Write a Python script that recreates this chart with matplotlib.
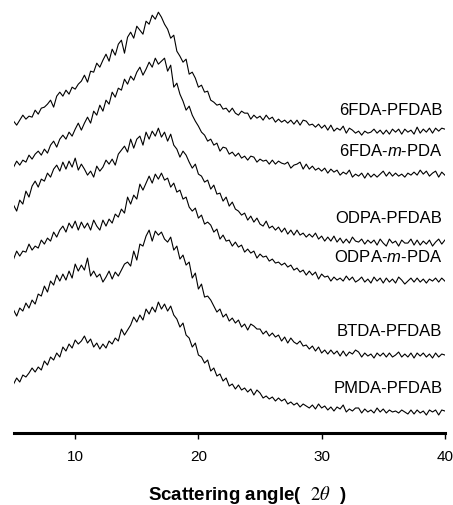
import numpy as np
import matplotlib
matplotlib.use("Agg")
import matplotlib.pyplot as plt

plt.rcParams["font.family"] = ["Liberation Sans", "DejaVu Sans"]
plt.rcParams["mathtext.fontset"] = "custom"
plt.rcParams["mathtext.rm"] = "Liberation Sans"
plt.rcParams["mathtext.it"] = "Liberation Sans:italic"

# stacked intensities (a.u., already offset), top to bottom
# sampled every 0.25 deg from 5 to 40 deg (2 theta)
i_6fda_pfdab = [312, 308, 313, 318, 314, 317, 316, 323, 319, 325, 326, 329, 333, 326, 337, 341,
                337, 343, 339, 346, 344, 349, 352, 358, 351, 362, 361, 370, 366, 373, 379, 372,
                384, 378, 389, 393, 380, 396, 401, 395, 407, 403, 399, 412, 409, 418, 414, 421,
                416, 409, 404, 395, 398, 382, 377, 371, 374, 359, 361, 355, 346, 348, 341, 342,
                333, 331, 328, 329, 324, 325, 321, 325, 320, 318, 322, 320, 320, 314, 318, 315,
                317, 313, 318, 314, 316, 311, 314, 311, 313, 310, 313, 309, 313, 308, 313, 312,
                308, 309, 306, 309, 305, 308, 303, 308, 302, 305, 303, 307, 300, 305, 303, 300,
                302, 298, 302, 300, 301, 304, 300, 303, 299, 303, 299, 304, 301, 304, 299, 304,
                301, 303, 299, 306, 300, 304, 301, 305, 300, 305, 302, 305, 304]
i_6fda_mpda = [266, 272, 268, 273, 271, 278, 274, 279, 282, 278, 284, 280, 288, 292, 286, 294,
               298, 294, 301, 297, 304, 310, 303, 310, 316, 310, 322, 318, 328, 322, 333, 329,
               341, 336, 345, 343, 354, 349, 357, 353, 361, 366, 358, 364, 371, 366, 375, 369,
               372, 375, 362, 368, 346, 350, 339, 332, 323, 327, 318, 312, 307, 301, 298, 292,
               294, 288, 290, 282, 286, 285, 279, 281, 277, 280, 275, 277, 273, 277, 276, 271,
               274, 272, 273, 269, 273, 269, 272, 270, 269, 271, 265, 268, 269, 271, 264, 269,
               264, 267, 263, 265, 262, 265, 260, 264, 261, 263, 258, 261, 259, 263, 256, 259,
               257, 260, 255, 260, 256, 259, 256, 259, 262, 257, 261, 257, 260, 257, 259, 256,
               260, 258, 261, 258, 263, 259, 262, 257, 260, 262, 256, 261, 258]
i_odpa_pfdab = [228, 222, 233, 229, 242, 236, 247, 252, 246, 254, 252, 260, 256, 264, 268, 262,
                271, 264, 272, 266, 275, 263, 269, 264, 258, 262, 256, 267, 262, 266, 273, 269,
                274, 268, 279, 283, 287, 281, 294, 285, 294, 297, 288, 301, 294, 302, 297, 305,
                296, 301, 292, 299, 288, 284, 276, 282, 278, 271, 265, 269, 259, 257, 251, 253,
                244, 248, 239, 240, 232, 236, 227, 231, 224, 222, 218, 220, 213, 217, 211, 215,
                209, 207, 212, 205, 207, 203, 206, 201, 205, 199, 203, 198, 203, 198, 200, 196,
                199, 196, 200, 194, 197, 192, 196, 192, 197, 191, 195, 190, 194, 190, 196, 192,
                191, 194, 189, 193, 190, 193, 188, 194, 190, 187, 194, 190, 192, 187, 193, 190,
                190, 194, 188, 193, 188, 192, 189, 193, 187, 191, 194, 189, 193]
i_odpa_mpda = [174, 182, 177, 182, 181, 189, 183, 187, 185, 193, 189, 195, 192, 201, 196, 203,
               207, 201, 210, 205, 212, 203, 211, 205, 210, 203, 213, 207, 203, 213, 207, 214,
               210, 219, 216, 224, 220, 236, 229, 238, 234, 249, 243, 250, 257, 250, 259, 254,
               260, 253, 255, 246, 250, 241, 243, 234, 236, 226, 222, 225, 215, 218, 209, 211,
               208, 201, 204, 194, 198, 192, 193, 187, 191, 186, 188, 181, 184, 180, 182, 175,
               179, 176, 177, 172, 174, 170, 171, 168, 170, 166, 168, 163, 165, 161, 163, 158,
               162, 158, 161, 154, 159, 156, 157, 152, 156, 153, 155, 152, 157, 153, 156, 151,
               153, 156, 151, 154, 150, 156, 152, 155, 150, 155, 151, 154, 150, 156, 153, 149,
               152, 155, 151, 155, 151, 154, 150, 154, 152, 155, 151, 155, 152]
i_btda_pfdab = [123, 117, 125, 122, 130, 125, 133, 129, 139, 137, 147, 141, 152, 148, 158, 152,
                159, 153, 162, 155, 169, 162, 168, 163, 175, 157, 162, 156, 159, 151, 156, 162,
                154, 161, 157, 163, 169, 171, 167, 182, 173, 189, 187, 197, 203, 192, 202, 198,
                201, 194, 191, 196, 183, 187, 174, 178, 168, 171, 155, 160, 144, 149, 136, 137,
                133, 127, 121, 124, 116, 119, 112, 115, 110, 113, 106, 109, 103, 109, 107, 104,
                104, 99, 102, 97, 100, 96, 98, 92, 96, 90, 95, 91, 89, 92, 87, 88,
                84, 87, 82, 86, 80, 83, 79, 83, 79, 82, 77, 82, 77, 81, 79, 83,
                81, 76, 80, 77, 79, 75, 80, 77, 80, 76, 80, 76, 78, 81, 76, 79,
                76, 80, 75, 80, 77, 80, 76, 79, 75, 80, 76, 79, 78]
i_pmda_pfdab = [49, 55, 51, 58, 56, 60, 65, 61, 66, 63, 72, 68, 76, 73, 80, 76,
                86, 82, 89, 85, 93, 89, 92, 97, 90, 94, 86, 90, 84, 89, 85, 92,
                89, 95, 92, 104, 98, 103, 108, 116, 111, 118, 113, 124, 119, 126, 121, 131,
                124, 129, 122, 127, 118, 114, 106, 110, 98, 95, 86, 90, 78, 76, 70, 73,
                62, 65, 57, 59, 52, 55, 47, 49, 44, 48, 43, 45, 41, 44, 38, 43,
                40, 35, 37, 34, 36, 32, 35, 32, 34, 29, 31, 28, 30, 26, 29, 27,
                25, 28, 24, 29, 25, 27, 23, 26, 22, 26, 24, 28, 21, 24, 22, 25,
                25, 20, 24, 21, 23, 20, 25, 21, 24, 20, 23, 21, 22, 20, 23, 21,
                19, 23, 19, 23, 20, 22, 18, 23, 21, 23, 18, 23, 22]

series = [i_6fda_pfdab, i_6fda_mpda, i_odpa_pfdab, i_odpa_mpda, i_btda_pfdab, i_pmda_pfdab]
names = ["6FDA-PFDAB", r"6FDA-$\mathit{m}$-PDA", "ODPA-PFDAB",
         r"ODPA-$\mathit{m}$-PDA", "BTDA-PFDAB", "PMDA-PFDAB"]
label_y = [323, 282, 215, 176, 102, 45]

fig = plt.figure(figsize=(4.53, 5.05), dpi=100)
ax = fig.add_axes([0.030, 0.1426, 0.952, 0.857])

for vals in series:
    two_theta = np.linspace(5, 40, len(vals))
    ax.plot(two_theta, vals, color="black", lw=0.8)

for name, yl in zip(names, label_y):
    ax.text(39.8, yl, name, ha="right", va="center", fontsize=12)

ax.set_xlim(5, 40)
ax.set_ylim(0, 433)
ax.set_xticks([10, 20, 30, 40])
ax.set_yticks([])
for s in ["left", "right", "top"]:
    ax.spines[s].set_visible(False)
ax.spines["bottom"].set_linewidth(2.2)
ax.tick_params(axis="x", direction="out", length=4, width=1, pad=8, labelsize=11)

# x label: bold sans text with a serif italic 2-theta
fig.text(247, 505 - 495, "Scattering angle(  $\\mathit{2}\\theta$  )",
         transform=None, ha="center", va="center",
         fontsize=13.5, fontweight="bold", math_fontfamily="stix")

fig.savefig("out.png", dpi=100)
